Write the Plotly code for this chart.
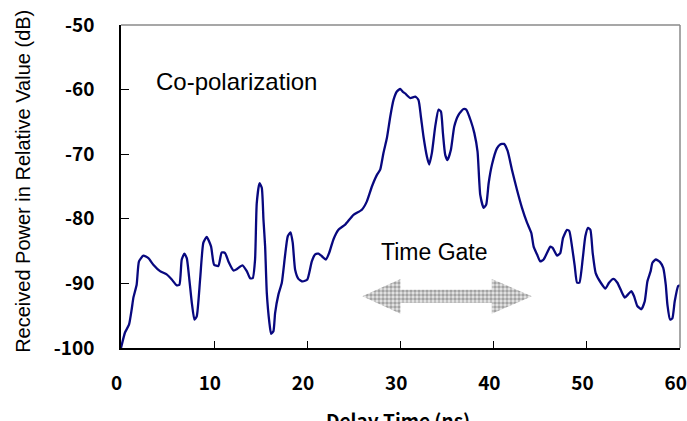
import plotly.graph_objects as go

# ---- data ----
delay_ns = [0.0, 0.43, 0.86, 1.15, 1.33, 1.68, 1.93, 2.4, 2.94, 3.47, 4.19, 4.9, 5.45, 5.98, 6.27,
            6.52, 6.8, 7.06, 7.3, 7.6, 7.88, 8.13, 8.49, 8.84, 9.2, 9.67, 9.99, 10.45, 10.81, 11.17,
            11.53, 12.07, 12.42, 13.03, 13.5, 13.86, 14.14, 14.39, 14.57, 14.86, 15.11, 15.29, 15.47,
            15.65, 15.93, 16.11, 16.36, 16.54, 16.9, 17.26, 17.6, 17.9, 18.2, 18.43, 18.69, 19.04,
            19.5, 20.0, 20.48, 20.84, 21.2, 21.56, 21.99, 22.34, 22.8, 23.34, 24.06, 24.95, 25.85,
            26.39, 26.93, 27.47, 27.82, 28.17, 28.54, 28.9, 29.25, 29.61, 29.97, 30.3, 30.5, 31.04,
            31.58, 31.93, 32.19, 32.47, 32.84, 33.08, 33.37, 33.73, 34.08, 34.34, 34.55, 34.8, 35.05,
            35.41, 35.77, 36.23, 36.77, 37.06, 37.56, 37.92, 38.27, 38.56, 38.92, 39.2, 39.46, 39.82,
            40.35, 40.7, 41.1, 41.5, 41.96, 42.5, 43.04, 43.58, 44.04, 44.29, 44.65, 45.0, 45.36,
            45.72, 46.08, 46.33, 46.8, 47.15, 47.44, 47.87, 48.12, 48.41, 48.7, 48.95, 49.2, 49.55,
            49.84, 50.13, 50.38, 50.63, 50.95, 51.5, 52.0, 52.38, 52.85, 53.28, 53.64, 54.07, 54.43,
            54.78, 55.07, 55.42, 55.85, 56.21, 56.5, 56.85, 57.04, 57.4, 57.86, 58.2, 58.47, 58.65,
            58.93, 59.18, 59.43, 59.8, 60.0]
power_db = [-100.0, -97.6, -96.4, -94.0, -92.2, -90.2, -86.6, -85.7, -86.1, -87.1, -88.1, -88.6,
            -89.4, -90.3, -90.2, -86.3, -85.4, -86.1, -88.9, -93.0, -95.6, -95.1, -89.4, -83.7,
            -82.8, -84.3, -87.1, -87.3, -85.2, -85.3, -86.6, -88.0, -87.8, -87.2, -88.1, -89.2,
            -89.2, -86.3, -77.6, -74.5, -75.2, -80.1, -84.3, -91.5, -96.1, -97.8, -97.4, -94.6,
            -91.7, -89.9, -85.8, -82.7, -82.1, -83.7, -87.9, -89.3, -89.7, -89.4, -86.6, -85.5,
            -85.4, -85.8, -86.3, -85.3, -83.2, -81.7, -80.9, -79.4, -78.6, -77.3, -75.0, -73.2,
            -72.4, -69.8, -67.5, -64.2, -61.6, -60.3, -59.9, -60.4, -60.6, -61.3, -61.1, -61.6,
            -64.2, -67.3, -70.4, -71.6, -69.8, -65.7, -63.1, -63.4, -66.7, -70.1, -70.9, -69.3,
            -65.7, -63.9, -63.0, -63.1, -64.9, -66.7, -69.6, -76.3, -78.3, -77.8, -74.5, -71.6,
            -69.1, -68.5, -68.4, -69.5, -72.4, -75.5, -78.3, -80.6, -82.2, -84.3, -85.5, -86.6,
            -86.3, -85.3, -84.3, -84.5, -85.7, -85.3, -83.0, -81.7, -81.9, -84.3, -87.3, -89.9,
            -89.9, -86.3, -82.7, -81.4, -81.7, -85.3, -88.4, -89.9, -90.8, -89.9, -89.3, -89.9,
            -91.0, -92.2, -91.7, -91.2, -92.0, -93.5, -94.0, -92.8, -89.7, -88.1, -86.8, -86.3,
            -86.7, -87.6, -90.2, -93.3, -95.6, -95.4, -92.8, -90.4, -90.3]

x_ticks = [0, 10, 20, 30, 40, 50, 60]
x_tick_text = ["0", "10", "20", "30", "40", "50", "60"]
y_ticks = [-100, -90, -80, -70, -60, -50]
y_tick_text = ["-100", "-90", "-80", "-70", "-60", "-50"]

# time-gate arrow (ns / dB)
gate_tip_left, gate_head_left = 25.9, 30.0
gate_head_right, gate_tip_right = 39.8, 44.1
gate_level, head_half, shaft_half = -92.0, 2.7, 1.0

arrow_x = [gate_tip_left, gate_head_left, gate_head_left, gate_head_right, gate_head_right,
           gate_tip_right, gate_head_right, gate_head_right, gate_head_left, gate_head_left,
           gate_tip_left]
arrow_y = [gate_level, gate_level + head_half, gate_level + shaft_half, gate_level + shaft_half,
           gate_level + head_half, gate_level, gate_level - head_half, gate_level - shaft_half,
           gate_level - shaft_half, gate_level - head_half, gate_level]

TICK_FONT = dict(family="Noto Sans CJK JP", size=19, color="black", weight="bold")

fig = go.Figure()
fig.add_trace(go.Scatter(
    x=arrow_x, y=arrow_y, mode="lines", fill="toself",
    line=dict(width=0, color="rgba(0,0,0,0)"),
    fillcolor="#e0e0e0",
    fillpattern=dict(shape=".", fgcolor="#5e5e5e", bgcolor="#e8e8e8", size=4, solidity=0.6),
    hoverinfo="skip", showlegend=False))
fig.add_trace(go.Scatter(
    x=delay_ns, y=power_db, mode="lines",
    line=dict(color="#08087f", width=2.3, shape="spline", smoothing=0.5),
    showlegend=False))

fig.update_layout(
    width=687, height=421,
    margin=dict(l=121, r=7, t=25, b=73, autoexpand=False),
    paper_bgcolor="white", plot_bgcolor="white",
    xaxis=dict(range=[0, 60], tickvals=x_ticks,
               ticktext=[t + "\u00a0\u00a0" for t in x_tick_text],
               ticks="inside", ticklen=7, tickwidth=1.3,
               tickcolor="black", showline=True, linecolor="black", linewidth=1.6,
               showgrid=False, zeroline=False, tickfont=TICK_FONT, ticklabelstandoff=17,
               ticklabeloverflow="allow", automargin=False),
    yaxis=dict(range=[-100, -50], tickvals=y_ticks, ticktext=y_tick_text, ticks="inside",
               ticklen=8, tickwidth=1.3, tickcolor="black", showline=True, linecolor="black",
               linewidth=1.6, showgrid=False, zeroline=False, tickfont=TICK_FONT,
               ticklabelstandoff=21, ticklabeloverflow="allow", automargin=False),
    shapes=[
        dict(type="line", xref="paper", yref="paper", x0=0, x1=1, y0=1, y1=1,
             line=dict(color="#8a8a8a", width=1.5)),
        dict(type="line", xref="paper", yref="paper", x0=1, x1=1, y0=0, y1=1,
             line=dict(color="#8a8a8a", width=1.5)),
    ],
    annotations=[
        dict(text="Co-polarization", x=12.4, y=-58.8, xref="x", yref="y", showarrow=False,
             font=dict(family="Liberation Sans", size=24, color="black")),
        dict(text="Time Gate", x=33.7, y=-85.2, xref="x", yref="y", showarrow=False,
             font=dict(family="Liberation Sans", size=23, color="black")),
        dict(text="Received Power in Relative Value (dB)", x=-0.2, y=0.515,
             xref="paper", yref="paper", textangle=-90, showarrow=False,
             font=dict(family="Liberation Sans", size=20, color="black")),
        dict(text="Delay Time (ns)", x=0.4955, y=-0.172, xref="paper", yref="paper",
             yanchor="top", showarrow=False, font=TICK_FONT),
    ],
)

fig.write_html("out.html")
